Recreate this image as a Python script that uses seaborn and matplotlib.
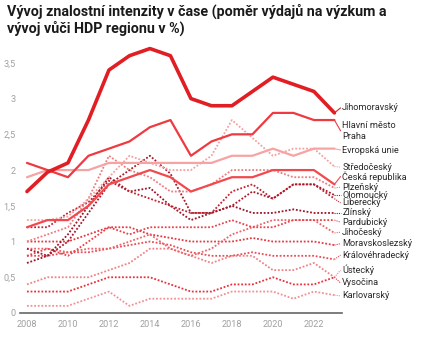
import matplotlib
matplotlib.use("Agg")
import matplotlib.pyplot as plt
import seaborn as sns
import pandas as pd

# ---------------- data ----------------
years = list(range(2008, 2024))
jihomoravsky = [1.7, 1.97, 2.1, 2.7, 3.4, 3.6, 3.7, 3.6, 3.0, 2.9, 2.9, 3.1, 3.3, 3.2, 3.1, 2.8]
praha = [2.1, 2.0, 1.9, 2.2, 2.3, 2.4, 2.6, 2.7, 2.2, 2.4, 2.5, 2.5, 2.8, 2.8, 2.7, 2.7]
evropska_unie = [1.9, 2.0, 2.0, 2.0, 2.1, 2.1, 2.1, 2.1, 2.1, 2.1, 2.2, 2.2, 2.3, 2.2, 2.3, 2.3]
stredocesky = [1.3, 1.3, 1.35, 1.6, 1.9, 2.2, 2.1, 2.0, 2.0, 2.2, 2.7, 2.45, 2.2, 2.3, 2.3, 2.05]
ceska_republika = [1.2, 1.3, 1.3, 1.5, 1.8, 1.9, 2.0, 1.9, 1.7, 1.8, 1.9, 1.9, 2.0, 2.0, 2.0, 1.8]
plzensky = [1.0, 1.1, 1.2, 1.6, 2.2, 2.0, 1.9, 1.7, 1.7, 1.8, 2.0, 2.0, 2.0, 1.9, 1.9, 1.75]
olomoucky = [0.9, 0.8, 1.0, 1.4, 1.8, 2.0, 2.2, 1.95, 1.4, 1.4, 1.5, 1.7, 1.6, 1.8, 1.8, 1.65]
liberecky = [1.2, 1.2, 1.4, 1.55, 1.85, 1.7, 1.6, 1.5, 1.4, 1.4, 1.7, 1.8, 1.6, 1.8, 1.8, 1.6]
zlinsky = [0.7, 0.8, 1.1, 1.5, 1.9, 1.7, 1.75, 1.5, 1.3, 1.4, 1.5, 1.4, 1.4, 1.45, 1.4, 1.4]
pardubicky = [0.8, 0.9, 0.8, 1.0, 1.2, 1.1, 1.2, 1.2, 1.2, 1.2, 1.3, 1.2, 1.2, 1.3, 1.3, 1.3]
jihocesky = [0.9, 0.9, 0.85, 0.9, 0.9, 1.0, 1.1, 0.9, 0.8, 0.9, 1.1, 1.2, 1.3, 1.3, 1.3, 1.12]
moravskoslezsky = [1.0, 1.0, 1.0, 1.1, 1.2, 1.2, 1.1, 1.05, 1.0, 1.0, 1.0, 1.05, 1.0, 1.0, 1.0, 0.95]
kralovehradecky = [0.8, 0.8, 0.85, 0.85, 0.9, 0.95, 1.0, 0.95, 0.85, 0.8, 0.8, 0.85, 0.8, 0.8, 0.8, 0.75]
ustecky = [0.4, 0.5, 0.5, 0.5, 0.6, 0.7, 0.9, 0.9, 0.8, 0.7, 0.8, 0.8, 0.6, 0.6, 0.7, 0.5]
vysocina = [0.3, 0.3, 0.3, 0.4, 0.5, 0.5, 0.5, 0.4, 0.3, 0.3, 0.4, 0.4, 0.5, 0.4, 0.4, 0.5]
karlovarsky = [0.1, 0.1, 0.1, 0.2, 0.3, 0.1, 0.2, 0.2, 0.2, 0.2, 0.3, 0.3, 0.3, 0.2, 0.3, 0.25]

labels = ["Jihomoravský", "Hlavní město\nPraha", "Evropská unie", "Středočeský",
          "Česká republika", "Plzeňský", "Olomoucký", "Liberecký", "Zlínský",
          "Pardubický", "Jihočeský", "Moravskoslezský", "Královéhradecký",
          "Ústecký", "Vysočina", "Karlovarský"]
series = [jihomoravsky, praha, evropska_unie, stredocesky, ceska_republika, plzensky,
          olomoucky, liberecky, zlinsky, pardubicky, jihocesky, moravskoslezsky,
          kralovehradecky, ustecky, vysocina, karlovarsky]
y_ticks = [0, 0.5, 1, 1.5, 2, 2.5, 3, 3.5]
y_tick_labels = ["0", "0,5", "1", "1,5", "2", "2,5", "3", "3,5"]
x_ticks = [2008, 2010, 2012, 2014, 2016, 2018, 2020, 2022]

# ---------------- styles / layout ----------------
styles = [
    dict(color="#e01e24", lw=2.6, ls="-"),
    dict(color="#ee3a40", lw=1.6, ls="-"),
    dict(color="#f7a3a3", lw=1.6, ls="-"),
    dict(color="#f5a0a0", lw=1.3, ls=(0, (1, 1))),
    dict(color="#f0494e", lw=1.6, ls="-"),
    dict(color="#ef7a7e", lw=1.3, ls=(0, (1, 1))),
    dict(color="#a8172a", lw=1.3, ls=(0, (1, 1))),
    dict(color="#c42230", lw=1.3, ls=(0, (1, 1))),
    dict(color="#9c1426", lw=1.3, ls=(0, (1, 1))),
    dict(color="#e8434a", lw=1.3, ls=(0, (1, 1))),
    dict(color="#ee6468", lw=1.3, ls=(0, (1, 1))),
    dict(color="#e43843", lw=1.3, ls=(0, (1, 1))),
    dict(color="#ea4c57", lw=1.3, ls=(0, (1, 1))),
    dict(color="#f08286", lw=1.3, ls=(0, (1, 1))),
    dict(color="#e7303b", lw=1.3, ls=(0, (1, 1))),
    dict(color="#f29096", lw=1.3, ls=(0, (1, 1))),
]
# vertical position of each end label (data units)
label_pos = [2.87, 2.55, 2.28, 2.04, 1.91, 1.76, 1.65, 1.54, 1.40, 1.27, 1.13,
             0.97, 0.81, 0.60, 0.42, 0.24]

rows = []
for name, vals in zip(labels, series):
    for yr, v in zip(years, vals):
        rows.append((name, yr, v))
df = pd.DataFrame(rows, columns=["region", "year", "value"])

sns.set_style("white")
plt.rcParams["font.family"] = ["Roboto", "DejaVu Sans"]

fig = plt.figure(figsize=(4.22, 3.39), dpi=100)
ax = fig.add_axes([20 / 422, 1 - 313 / 339, 322 / 422, 273 / 339])

# draw back to front (dotted first, then solid, thick last)
order = list(range(len(labels)))[::-1]
for i in order:
    st = styles[i]
    sub = df[df["region"] == labels[i]]
    z = 3 if st["ls"] == "-" else 2
    if i == 0:
        z = 4
    sns.lineplot(data=sub, x="year", y="value", ax=ax, color=st["color"],
                 linewidth=st["lw"], linestyle=st["ls"], zorder=z, legend=False)

# end labels with connectors
for i, name in enumerate(labels):
    st = styles[i]
    yend = series[i][-1]
    ax.plot([years[-1], years[-1] + 0.3], [yend, label_pos[i]], color=st["color"],
            lw=0.8, ls=st["ls"] if st["ls"] != "-" else "-", clip_on=False, zorder=2)
    ax.text(years[-1] + 0.38, label_pos[i], name, fontsize=6.6, color="#2a2a2a",
            va="center", ha="left", linespacing=1.25, clip_on=False)

ax.set_xlim(2007.66, 2023.37)
ax.set_ylim(0, 3.82)
ax.set_yticks(y_ticks)
ax.set_yticklabels(y_tick_labels)
ax.set_xticks(x_ticks)
ax.set_xticklabels([str(x) for x in x_ticks])
ax.tick_params(axis="both", length=0, labelsize=6.6, colors="#a0a0a0")
ax.tick_params(axis="x", pad=5)
ax.tick_params(axis="y", pad=3)
for s in ["top", "right", "left"]:
    ax.spines[s].set_visible(False)
ax.spines["bottom"].set_color("#666666")
ax.spines["bottom"].set_linewidth(1.2)
ax.set_xlabel("")
ax.set_ylabel("")
ax.grid(False)

fig.text(7 / 422, 1 - 4 / 339,
         "Vývoj znalostní intenzity v čase (poměr výdajů na výzkum a\nvývoj vůči HDP regionu v %)",
         fontsize=10.3, fontweight="bold", color="#1a1a1a", va="top", ha="left",
         linespacing=1.15)

fig.savefig("out.png", dpi=100)
